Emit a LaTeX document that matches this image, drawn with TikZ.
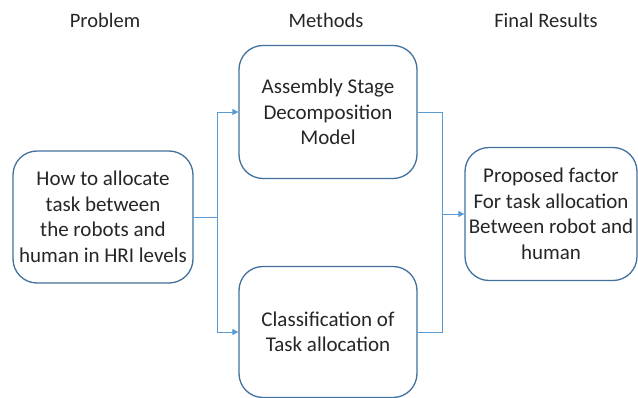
\documentclass[tikz,border=0pt]{standalone}
\usepackage{fontspec}
\setmainfont{Carlito}
\usetikzlibrary{arrows.meta}
\definecolor{boxline}{HTML}{41719C}
\definecolor{connline}{HTML}{5B9BD5}
\begin{document}
\begin{tikzpicture}[x=1pt,y=1pt,
  stagebox/.style={draw=boxline,line width=1.3pt,rounded corners=24pt,fill=white,
    align=center,inner sep=0pt,font=\fontsize{21}{25.5}\selectfont,text=black!85},
  header/.style={font=\fontsize{20.5}{24}\selectfont,text=black!85},
  conn/.style={draw=connline,line width=0.9pt},
  arr/.style={conn,-{Triangle[length=6pt,width=6pt]}}]
\useasboundingbox (0,0) rectangle (638,-398);
\node[header] (h1) at (105,-20) {Problem};
\node[header] (h2) at (326,-20) {Methods};
\node[header] (h3) at (546,-20) {Final Results};
\node[stagebox,minimum width=180pt,minimum height=132pt] (L) at (103,-217)
  {How to allocate\\task between\\the robots and\\human in HRI levels};
\node[stagebox,minimum width=178pt,minimum height=133pt] (T) at (328,-112)
  {Assembly Stage\\Decomposition\\Model};
\node[stagebox,minimum width=178pt,minimum height=131pt] (B) at (328,-332)
  {Classification of\\Task allocation};
\node[stagebox,minimum width=172pt,minimum height=133pt] (R) at (551,-214)
  {Proposed factor\\For task allocation\\Between robot and\\human};
\coordinate (j1) at (217,-217);
\coordinate (j2) at (442,-214);
\draw[conn] (L.east) -- (j1);
\draw[arr] (j1) |- (T.west);
\draw[arr] (j1) |- (B.west);
\draw[conn] (T.east) -| (j2);
\draw[conn] (B.east) -| (j2);
\draw[arr] (j2) -- (R.west);
\end{tikzpicture}
\end{document}
